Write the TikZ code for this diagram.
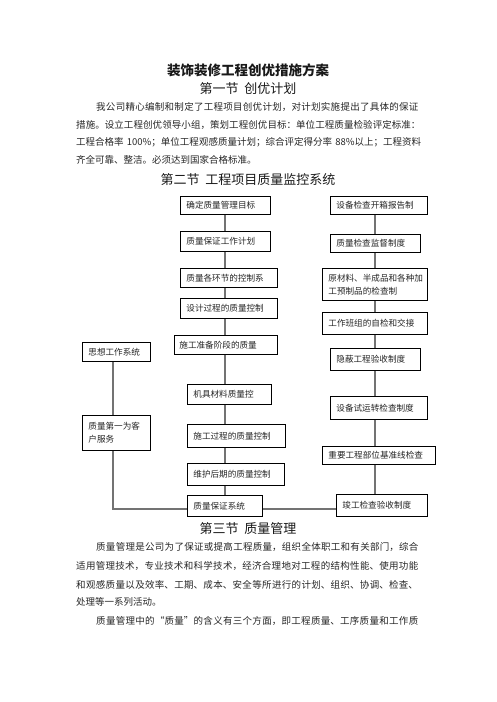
\documentclass[tikz,border=0pt]{standalone}
\usepackage{fontspec}
\setmainfont{Noto Sans CJK SC}
\newcommand\zhjust{\XeTeXlinebreaklocale "zh"\XeTeXlinebreakskip=0pt plus 2pt\relax\parfillskip=0pt\relax}
\tikzset{
  box/.style={draw=black, line width=0.8pt, anchor=north west, inner xsep=6pt, inner ysep=0pt,
    font=\fontsize{8.6pt}{13pt}\selectfont, text=black!85},
  conn/.style={draw=black!55, line width=1.1pt},
  para/.style={anchor=west, inner sep=0pt, font=\fontsize{9.5pt}{12pt}\selectfont, text=black!85},
  head/.style={anchor=center, inner sep=0pt, font=\fontsize{13pt}{15pt}\selectfont, text=black!90},
}
\newcommand\bx[7]{\node[box, text width=#5pt, minimum width=#4pt, minimum height=#6pt] (#1) at (#2,#3) {#7};}
\begin{document}
\begin{tikzpicture}[x=1pt,y=-1pt]
\useasboundingbox[fill=white] (0,0) rectangle (496,702);
% title and section 1
\node[head, font=\fontsize{13.5pt}{15pt}\selectfont\bfseries] (title) at (248,70) {装饰装修工程创优措施方案};
\node[head] (h1) at (248,89) {第一节\ \ 创优计划};
\node[para, text width=325pt] (p1) at (96,106.7) {\zhjust 我公司精心编制和制定了工程项目创优计划，对计划实施提出了具体的保证\par};
\node[para, text width=345pt] (p2) at (76,125) {\zhjust 措施。设立工程创优领导小组，策划工程创优目标：单位工程质量检验评定标准：\par};
\node[para, text width=345pt] (p3) at (76,142.5) {\zhjust 工程合格率 100\%；单位工程观感质量计划；综合评定得分率 88\%以上；工程资料\par};
\node[para] (p4) at (76,160) {齐全可靠、整洁。必须达到国家合格标准。};
% section 2
\node[head] (h2) at (248,179.5) {第二节\ \ 工程项目质量监控系统};
\coordinate (cx) at (225,0);
\coordinate (rx) at (375,0);
\coordinate (lx) at (113,0);
\coordinate (by) at (0,509);
\bx{a1}{180}{196}{90}{78}{18}{确定质量管理目标}
\bx{a2}{180}{231}{90}{78}{20}{质量保证工作计划}
\bx{a3}{180}{268}{97}{85}{19}{质量各环节的控制系}
\bx{a4}{180}{298}{97}{85}{20}{设计过程的质量控制}
\node[box, inner xsep=5pt, text width=93pt, minimum width=103pt, minimum height=19pt] (a5) at (174,335) {施工准备阶段的质量};
\bx{a6}{187}{384}{84}{72}{20}{\addfontfeature{LetterSpace=17}机具材料质量控}
\bx{a7}{187}{424}{98}{86}{23}{施工过程的质量控制}
\bx{a8}{187}{463}{97}{85}{22}{维护后期的质量控制}
\bx{a9}{187}{495}{75}{63}{21}{质量保证系统}
\bx{b1}{330}{196}{97}{85}{18}{设备检查开箱报告制}
\bx{b2}{330}{234}{90}{78}{18}{质量检查监督制度}
\bx{b3}{322}{268}{105}{93}{32}{\mbox{原材料、半成品和各种加}\\\mbox{工预制品的检查制}}
\bx{b4}{322}{312}{105}{93}{22}{\mbox{工作班组的自检和交接}}
\bx{b5}{330}{348}{90}{78}{22}{隐蔽工程验收制度}
\bx{b6}{330}{396}{97}{85}{23}{设备试运转检查制度}
\bx{b7}{322}{446}{113}{101}{18}{\mbox{重要工程部位基准线检查}}
\bx{b8}{336}{494}{91}{79}{22}{竣工检查验收制度}
\bx{c1}{82}{342}{68}{56}{19}{思想工作系统}
\bx{c2}{82}{415}{68}{56}{35}{\mbox{质量第一为客}\\\mbox{户服务}}
% connectors
\foreach \u/\v in {a1/a2,a2/a3,a3/a4,a4/a5,a5/a6,a6/a7,a7/a8,a8/a9}
  \draw[conn] (\u.south -| cx) -- (\v.north -| cx);
\foreach \u/\v in {b1/b2,b2/b3,b3/b4,b4/b5,b5/b6,b6/b7,b7/b8}
  \draw[conn] (\u.south -| rx) -- (\v.north -| rx);
\draw[conn] (c1.south -| lx) -- (c2.north -| lx);
\draw[conn] (c2.south -| lx) -- (lx |- by) -- (a9.west |- by);
\draw[conn] (a9.east |- by) -- (b8.west |- by);
% section 3
\node[head] (h3) at (248,528.5) {第三节\ \ 质量管理};
\node[para, text width=325pt] (q1) at (96,547) {\zhjust 质量管理是公司为了保证或提高工程质量，组织全体职工和有关部门，综合\par};
\node[para, text width=345pt] (q2) at (76,566) {\zhjust 适用管理技术，专业技术和科学技术，经济合理地对工程的结构性能、使用功能\par};
\node[para, text width=345pt] (q3) at (76,585) {\zhjust 和观感质量以及效率、工期、成本、安全等所进行的计划、组织、协调、检查、\par};
\node[para] (q4) at (76,602) {处理等一系列活动。};
\node[para, text width=325pt] (q5) at (96,621) {\zhjust 质量管理中的“质量”的含义有三个方面，即工程质量、工序质量和工作质\par};
\end{tikzpicture}
\end{document}
